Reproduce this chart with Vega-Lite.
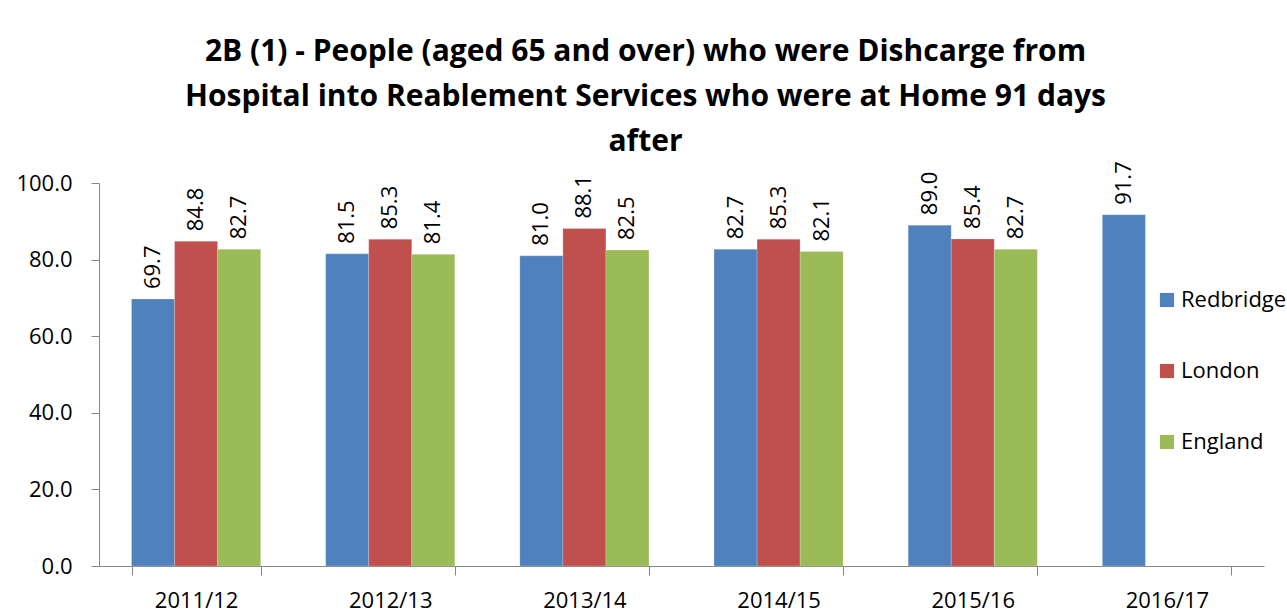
{
  "$schema": "https://vega.github.io/schema/vega-lite/v6.json",
  "width": 1165,
  "height": 383,
  "autosize": {"type": "none"},
  "padding": {"left": 99, "top": 183, "right": 23, "bottom": 46},
  "background": "white",
  "config": {"view": {"stroke": null}, "font": "Open Sans"},
  "title": {
    "text": ["2B (1) - People (aged 65 and over) who were Dishcarge from", "Hospital into Reablement Services who were at Home 91 days", "after"],
    "fontSize": 30,
    "fontWeight": "bold",
    "font": "Open Sans",
    "color": "#000000",
    "lineHeight": 45,
    "anchor": "middle",
    "frame": "group",
    "dx": -36,
    "offset": 4
  },
  "data": {
    "values": [
      {"year": "2011/12", "series": "Redbridge", "value": 69.7},
      {"year": "2011/12", "series": "London", "value": 84.8},
      {"year": "2011/12", "series": "England", "value": 82.7},
      {"year": "2012/13", "series": "Redbridge", "value": 81.5},
      {"year": "2012/13", "series": "London", "value": 85.3},
      {"year": "2012/13", "series": "England", "value": 81.4},
      {"year": "2013/14", "series": "Redbridge", "value": 81.0},
      {"year": "2013/14", "series": "London", "value": 88.1},
      {"year": "2013/14", "series": "England", "value": 82.5},
      {"year": "2014/15", "series": "Redbridge", "value": 82.7},
      {"year": "2014/15", "series": "London", "value": 85.3},
      {"year": "2014/15", "series": "England", "value": 82.1},
      {"year": "2015/16", "series": "Redbridge", "value": 89.0},
      {"year": "2015/16", "series": "London", "value": 85.4},
      {"year": "2015/16", "series": "England", "value": 82.7},
      {"year": "2016/17", "series": "Redbridge", "value": 91.7}
    ]
  },
  "encoding": {
    "x": {
      "field": "year",
      "type": "nominal",
      "scale": {"paddingInner": 0.335, "paddingOuter": 0.1675},
      "axis": {
        "title": null,
        "labelAngle": 0,
        "labelFontSize": 22,
        "labelColor": "#000000",
        "labelFont": "Open Sans",
        "domainColor": "#868686",
        "tickColor": "#868686",
        "tickSize": 9,
        "tickBand": "extent",
        "labelPadding": 15
      }
    },
    "xOffset": {"field": "series", "type": "nominal", "sort": ["Redbridge", "London", "England"]},
    "y": {
      "field": "value",
      "type": "quantitative",
      "scale": {"domain": [0, 100]},
      "axis": {
        "title": null,
        "values": [0, 20, 40, 60, 80, 100],
        "format": ".1f",
        "grid": false,
        "labelFontSize": 22,
        "labelColor": "#000000",
        "labelFont": "Open Sans",
        "domainColor": "#868686",
        "tickColor": "#868686",
        "tickSize": 8,
        "labelPadding": 19
      }
    }
  },
  "layer": [
    {
      "mark": {"type": "bar", "stroke": "white", "strokeWidth": 0.5, "strokeOpacity": 0.4},
      "encoding": {
        "color": {
          "field": "series",
          "type": "nominal",
          "sort": ["Redbridge", "London", "England"],
          "scale": {"domain": ["Redbridge", "London", "England"], "range": ["#4F81BD", "#C0504D", "#9BBB59"]},
          "legend": {
            "title": null,
            "orient": "none",
            "legendX": 1057,
            "legendY": 106,
            "symbolType": "square",
            "symbolSize": 200,
            "symbolStrokeWidth": 0,
            "labelFontSize": 22,
            "labelFont": "Open Sans",
            "labelColor": "#000000",
            "rowPadding": 49,
            "labelOffset": 3
          }
        }
      }
    },
    {
      "mark": {"type": "text", "angle": -90, "align": "left", "baseline": "middle", "dx": 10, "fontSize": 22, "font": "Open Sans", "color": "#000000"},
      "encoding": {
        "text": {"field": "value", "type": "quantitative", "format": ".1f"}
      }
    }
  ]
}
